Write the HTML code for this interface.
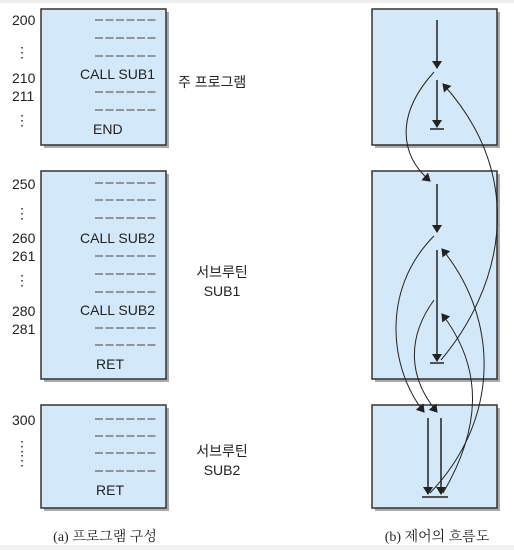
<!DOCTYPE html>
<html><head><meta charset="utf-8"><style>
body{margin:0;background:#fff;}
svg{display:block;font-family:"Liberation Sans","Noto Sans CJK KR",sans-serif;}
</style></head><body>
<svg width="514" height="550" viewBox="0 0 514 550">
<defs>
<marker id="a" markerWidth="8" markerHeight="10" refX="7" refY="5" orient="auto" markerUnits="userSpaceOnUse"><path d="M0,0 L8,5 L0,10 Z" fill="#222"/></marker>
</defs>
<rect x="0" y="0" width="514" height="3" fill="#eee"/>
<rect x="0" y="545" width="514" height="5" fill="#f2f2f2"/>
<g fill="#aaa">
<rect x="44" y="12" width="125" height="136"/><rect x="44" y="174" width="125" height="208"/><rect x="44" y="408" width="125" height="103"/>
<rect x="375" y="12" width="125" height="136"/><rect x="375" y="174" width="125" height="208"/><rect x="375" y="408" width="125" height="103"/>
</g>
<g fill="#d3e8f8" stroke="#333" stroke-width="1.5">
<rect x="41" y="9" width="125" height="136"/><rect x="41" y="171" width="125" height="208"/><rect x="41" y="405" width="125" height="103"/>
<rect x="372" y="9" width="125" height="136"/><rect x="372" y="171" width="125" height="208"/><rect x="372" y="405" width="125" height="103"/>
</g>
<g stroke="#444" stroke-width="1" stroke-dasharray="8,2.5">
<line x1="95" y1="20" x2="157" y2="20"/><line x1="95" y1="38" x2="157" y2="38"/><line x1="95" y1="56" x2="157" y2="56"/>
<line x1="95" y1="92" x2="157" y2="92"/><line x1="95" y1="110" x2="157" y2="110"/>
<line x1="95" y1="183" x2="157" y2="183"/><line x1="95" y1="200" x2="157" y2="200"/><line x1="95" y1="218" x2="157" y2="218"/>
<line x1="95" y1="256" x2="157" y2="256"/><line x1="95" y1="274" x2="157" y2="274"/><line x1="95" y1="292" x2="157" y2="292"/>
<line x1="95" y1="328" x2="157" y2="328"/><line x1="95" y1="345" x2="157" y2="345"/>
<line x1="95" y1="419" x2="157" y2="419"/><line x1="95" y1="436" x2="157" y2="436"/><line x1="95" y1="453" x2="157" y2="453"/><line x1="95" y1="471" x2="157" y2="471"/>
</g>
<g font-size="14" fill="#222">
<text x="12" y="25">200</text><text x="15" y="57">⋮</text><text x="12" y="83">210</text><text x="12" y="101">211</text><text x="15" y="125">⋮</text>
<text x="12" y="189">250</text><text x="15" y="218">⋮</text><text x="12" y="243">260</text><text x="12" y="261">261</text><text x="15" y="285">⋮</text>
<text x="12" y="316">280</text><text x="12" y="334">281</text>
<text x="12" y="425">300</text><text x="15" y="451">⋮</text><text x="15" y="465">⋮</text>
<text x="155" y="79" text-anchor="end">CALL SUB1</text><text x="93" y="134">END</text>
<text x="155" y="243" text-anchor="end">CALL SUB2</text><text x="155" y="315" text-anchor="end">CALL SUB2</text><text x="96" y="369">RET</text>
<text x="96" y="495">RET</text>
<text x="178" y="87">주 프로그램</text>
<text x="222" y="277" text-anchor="middle">서브루틴</text><text x="222" y="296" text-anchor="middle">SUB1</text>
<text x="222" y="456" text-anchor="middle">서브루틴</text><text x="222" y="475" text-anchor="middle">SUB2</text>
<text x="105" y="541" text-anchor="middle" font-family="Liberation Serif,Noto Serif CJK SC,serif">(a) 프로그램 구성</text>
<text x="437" y="541" text-anchor="middle" font-family="Liberation Serif,Noto Serif CJK SC,serif">(b) 제어의 흐름도</text>
</g>
<g stroke="#222" stroke-width="1.5" fill="none">
<line x1="437" y1="20" x2="437" y2="68" marker-end="url(#a)"/>
<line x1="437" y1="80" x2="437" y2="127" marker-end="url(#a)"/><line x1="430" y1="129" x2="444" y2="129"/>
<line x1="437" y1="184" x2="437" y2="232" marker-end="url(#a)"/>
<line x1="437" y1="250" x2="437" y2="361" marker-end="url(#a)"/><line x1="430" y1="363" x2="444" y2="363"/>
<line x1="428" y1="418" x2="428" y2="494" marker-end="url(#a)"/>
<line x1="441" y1="418" x2="441" y2="494" marker-end="url(#a)"/><line x1="422" y1="497" x2="448" y2="497"/>
</g>
<g stroke="#222" stroke-width="1" fill="none">
<path d="M434,72 C395,115 400,155 430,181" marker-end="url(#a)"/>
<path d="M441,360 C500,290 530,180 443,84" marker-end="url(#a)"/>
<path d="M434,236 C380,290 390,370 424,412" marker-end="url(#a)"/>
<path d="M434,300 C405,340 410,380 437,412" marker-end="url(#a)"/>
<path d="M430,493 C500,420 500,320 442,249" marker-end="url(#a)"/>
<path d="M443,493 C480,430 485,370 442,314" marker-end="url(#a)"/>
</g>
</svg>
</body></html>
